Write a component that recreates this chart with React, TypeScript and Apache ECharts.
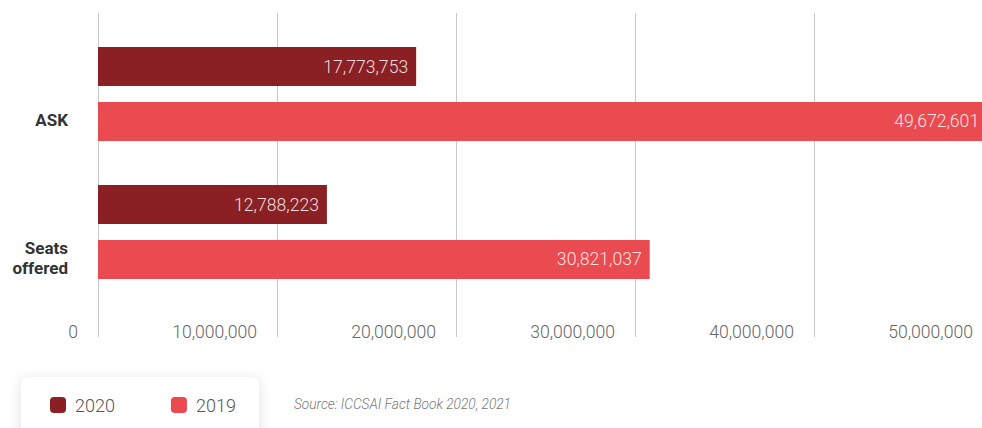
import React, { useEffect, useRef } from "react";
import * as echarts from "echarts";

const categories = ["ASK", "Seats offered"];
const series2020 = [17773753, 12788223];
const series2019 = [49672601, 30821037];
const tickMax = 50000000;
const tickInterval = 10000000;
const sourceText = "Source: ICCSAI Fact Book 2020, 2021";

const fmt = (v: number) => Number(v).toLocaleString("en-US");

export default function App() {
  const ref = useRef<HTMLDivElement>(null);
  useEffect(() => {
    if (!ref.current) return;
    const chart = echarts.init(ref.current, null, { renderer: "svg" });
    const dataLabel = {
      show: true,
      position: "insideRight",
      distance: 8,
      color: "rgba(255,255,255,0.86)",
      fontSize: 17.6,
      fontWeight: 300,
      fontFamily: "Roboto",
      formatter: (p: any) => fmt(p.value),
    };
    chart.setOption({
      animation: false,
      textStyle: { fontFamily: "Roboto" },
      grid: [
        { left: 98, top: 13, width: 895, height: 324 },
        { left: 98, top: 25, width: 895, height: 276 },
        { left: 98, top: 51, width: 895, height: 276 },
      ],
      xAxis: [
        {
          type: "value",
          gridIndex: 0,
          min: 0,
          max: tickMax,
          interval: tickInterval,
          axisLine: { show: false },
          axisTick: { show: false },
          splitLine: { show: true, lineStyle: { color: "#c8c8c8", width: 1 } },
          axisLabel: {
            formatter: (v: number) => fmt(v),
            align: "right",
            verticalAlign: "middle",
            padding: [0, 20, 0, 0],
            margin: -5,
            fontSize: 17.6,
            fontWeight: 300,
            color: "#666",
            fontFamily: "Roboto",
          },
        },
        {
          type: "value",
          gridIndex: 1,
          min: 0,
          max: tickMax,
          interval: tickInterval,
          show: false,
        },
        {
          type: "value",
          gridIndex: 2,
          min: 0,
          max: tickMax,
          interval: tickInterval,
          show: false,
        },
      ],
      yAxis: [
        {
          type: "category",
          gridIndex: 0,
          show: false,
          data: categories,
        },
        {
          type: "category",
          gridIndex: 1,
          inverse: true,
          show: false,
          data: categories,
        },
        {
          type: "category",
          gridIndex: 2,
          inverse: true,
          data: categories,
          axisLine: { show: false },
          axisTick: { show: false },
          splitLine: { show: false },
          axisLabel: {
            formatter: (v: string) => v.replace(" ", "\n"),
            margin: 30,
            fontSize: 17,
            fontWeight: "bold",
            color: "#333",
            lineHeight: 20,
            fontFamily: "Roboto",
          },
        },
      ],
      legend: {
        left: 50,
        top: 396,
        padding: 0,
        itemWidth: 16,
        itemHeight: 16,
        itemGap: 56,
        icon: "roundRect",
        z: 5,
        textStyle: {
          fontSize: 18,
          fontWeight: 300,
          color: "#555",
          padding: [0, 0, 0, 4],
          fontFamily: "Roboto",
        },
        data: ["2020", "2019"],
      },
      graphic: [
        {
          type: "rect",
          z: 0,
          shape: { x: 21, y: 377, width: 238, height: 80, r: 8 },
          style: {
            fill: "#fff",
            shadowBlur: 14,
            shadowColor: "rgba(0,0,0,0.12)",
            shadowOffsetY: 2,
          },
        },
        {
          type: "text",
          z: 5,
          x: 294,
          y: 404,
          style: {
            text: sourceText,
            fontSize: 13.7,
            fontStyle: "italic",
            fontWeight: 300,
            fontFamily: "Roboto",
            fill: "#777",
            verticalAlign: "middle",
          },
        },
      ],
      series: [
        {
          name: "2020",
          type: "bar",
          xAxisIndex: 1,
          yAxisIndex: 1,
          data: series2020,
          barWidth: 39,
          barGap: "41%",
          itemStyle: { color: "#8A1F24" },
          label: dataLabel,
        },
        {
          name: "2019",
          type: "bar",
          xAxisIndex: 1,
          yAxisIndex: 1,
          data: series2019,
          barWidth: 39,
          barGap: "41%",
          itemStyle: { color: "#E94B51" },
          label: dataLabel,
        },
      ],
    });
    return () => chart.dispose();
  }, []);
  return (
    <div
      style={{
        position: "absolute",
        left: 0,
        top: 0,
        width: 982,
        height: 428,
        overflow: "hidden",
      }}
    >
      <div ref={ref} style={{ width: 1010, height: 428 }} />
    </div>
  );
}
